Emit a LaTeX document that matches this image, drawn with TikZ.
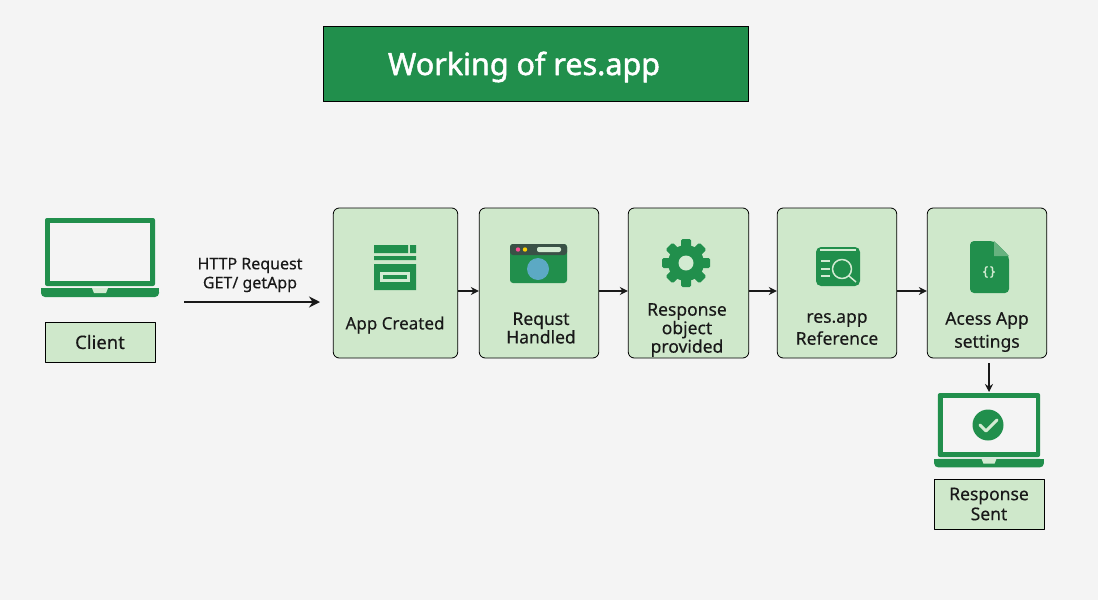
\documentclass[tikz,border=0pt]{standalone}
\usepackage{fontspec}
\usetikzlibrary{arrows.meta}
\setmainfont{Noto Sans}
\newfontfamily\titlefont[FakeBold=1.6]{Noto Sans}
\newfontfamily\stagefont[FakeBold=.3]{Noto Sans}
\definecolor{pagegray}{HTML}{F4F4F4}
\definecolor{gfgreen}{HTML}{218F4C}
\definecolor{boxgreen}{HTML}{CFE8CB}
\definecolor{icolight}{HTML}{D3EBD2}
\definecolor{browserbar}{HTML}{3A5146}
\definecolor{globeblue}{HTML}{5CA9C4}
\tikzset{
	stagebox/.style={draw=black, line width=.8pt, fill=boxgreen, rounded corners=6pt, minimum height=150pt, inner sep=0pt},
	namebox/.style={draw=black, line width=.8pt, fill=boxgreen, minimum width=110pt, inner sep=0pt},
	stagetext/.style={font=\stagefont\fontsize{17.5}{16.500}\selectfont, align=center, text=black!90},
	flow/.style={-{Stealth[length=8pt, width=8pt]}, line width=1.300pt, black!90},
	laptop/.pic={
		\fill[gfgreen, rounded corners=2pt] (-55,-68)--(55,-68)--(55,0)--(-55,0)--cycle;
		\fill[pagegray] (-50,-63) rectangle (50,-5);
		\fill[gfgreen, rounded corners=4pt] (-59,2)--(59,2)--(59,11)--(-59,11)--cycle;
		\fill[gfgreen] (-59,2) rectangle (59,6);
		\fill[icolight] (-8,2)--(8,2)--(6,7)--(-6,7)--cycle;
	}
}
\begin{document}
\begin{tikzpicture}[x=1pt, y=-1pt, line join=round]
	\useasboundingbox[fill=pagegray] (0,0) rectangle (1098,600);
	\path
	(184,302) coordinate (reqstart)
	(320,302) coordinate (reqend)
	(989,363) coordinate (downstart)
	(989,392) coordinate (downend)
	;
	% title
	\node[draw=black, line width=.6pt, fill=gfgreen, minimum width=425.500pt, minimum height=75.500pt, inner sep=0pt] (title) at (536,64) {};
	\node[text=white, font=\titlefont\fontsize{30.500}{31}\selectfont] (titletext) at (524,67) {Working of res.app};
	% stages
	\foreach \n/\l/\r in {app/333/458,req/479/599,res/628/749,ref/777/897,acc/927/1047}
	\node[stagebox, minimum width=\r pt-\l pt-.5pt] (\n) at ({(\l+\r)/2},283) {};
	\foreach \a/\b in {app/req,req/res,res/ref,ref/acc}
	\draw[flow] ([yshift=-8pt]\a.east)--([yshift=-8pt]\b.west);
	\draw[flow, -{Stealth[length=11pt, width=11pt]}, line width=1.600pt] (reqstart)--(reqend);
	\draw[flow] (downstart)--(downend);
	\node[font=\stagefont\fontsize{16}{19}\selectfont, align=center, text=black!90] (reqtext) at (250,275) {HTTP Request\\GET/ getApp};
	\node[stagetext, font=\stagefont\fontsize{17}{17}\selectfont] (apptext) at (395,325) {App Created};
	\node[stagetext] (reqlabel) at (541,328) {Requst\\Handled};
	\node[stagetext] (reslabel) at (687,330) {Response\\object\\provided};
	\node[stagetext, font=\stagefont\fontsize{17.5}{22}\selectfont] (reflabel) at (837,329) {res.app\\Reference};
	\node[stagetext, font=\stagefont\fontsize{17.5}{23}\selectfont] (acclabel) at (987,332) {Acess App\\settings};
	% client
	\path (100,286) pic {laptop};
	\node[namebox, minimum height=40pt, stagetext, font=\stagefont\fontsize{18.500}{18}\selectfont] (client) at (100,342) {\raisebox{-1pt}{Client}};
	% response sent
	\path (989,457) pic[xscale=.93, yscale=.94] {laptop};
	\fill[gfgreen] (988,425) circle(15.500);
	\draw[icolight, line width=3pt, line cap=round] (980,425)--(986,431)--(997,420);
	\node[namebox, minimum height=50pt, stagetext, font=\stagefont\fontsize{17.5}{20}\selectfont] (sent) at (989,504) {\raisebox{-3pt}{\parbox{100pt}{\centering Response\\Sent}}};
	% app icon
	\fill[gfgreen] (374,245) rectangle (408,253) (410,245) rectangle (416,253) (374,256) rectangle (416,260) (374,264) rectangle (416,290);
	\fill[icolight] (380,272) rectangle (410,282);
	\fill[gfgreen] (383,275) rectangle (407,279);
	% browser icon
	\fill[gfgreen, rounded corners=3pt] (510,244) rectangle (567,283);
	\fill[browserbar, rounded corners=3pt] (510,255)--(510,244)--(567,244)--(567,255)--cycle;
	\fill[red!60!magenta!70] (518,249.500) circle(2.200);
	\fill[yellow!70!orange] (525,249.500) circle(2.200);
	\fill[icolight, rounded corners=2pt] (537,247) rectangle (561,252);
	\fill[globeblue] (538,269) circle(11);
	% gear icon
	\foreach \a in {0,45,...,315}
	\fill[gfgreen, rotate around={\a:(686,263)}, rounded corners=1.500pt] (681,239) rectangle (691,250);
	\fill[gfgreen] (686,263) circle(18);
	\fill[icolight] (686,263) circle(7.500);
	% reference icon
	\fill[gfgreen, rounded corners=5pt] (816,247) rectangle (860,286);
	\draw[icolight, line width=1.200pt] (820,250)--(856,250);
	\draw[icolight, line width=1.500pt] (842,269) circle(9.500) (849,276)--(856,282);
	\foreach \y in {261,269,276}
	\draw[icolight, line width=1.500pt] (821,\y)--(830,\y);
	% settings icon
	\fill[gfgreen, rounded corners=4pt] (994,241)--(970,241)--(970,293)--(1009,293)--(1009,256)--cycle;
	\fill[gfgreen!60!boxgreen] (994,241)--(1009,256)--(994,256)--cycle;
	\node[text=icolight, font=\titlefont\fontsize{13}{13}\selectfont] (braces) at (989,272) {\{\,\}};
\end{tikzpicture}
\end{document}
